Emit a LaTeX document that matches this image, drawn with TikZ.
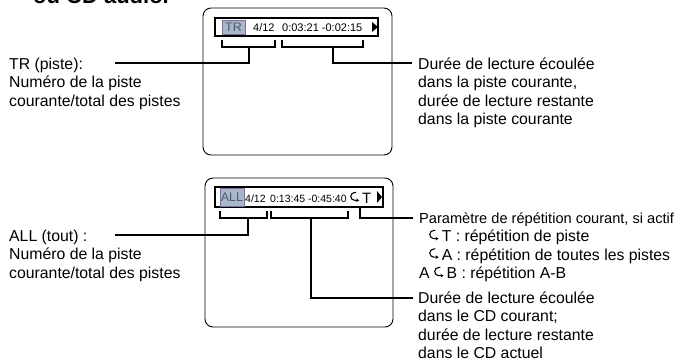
\documentclass[tikz,border=0pt]{standalone}
\usepackage{fontspec}
\setmainfont{Liberation Sans}
\usetikzlibrary{arrows.meta}

\definecolor{hlfill}{RGB}{168,184,200}
\definecolor{hlframe}{RGB}{120,110,160}
\definecolor{hltext}{RGB}{80,90,110}

% repeat symbol
\newcommand{\rpt}{\tikz[baseline=0pt,line width=1.1pt]
  \draw[-{Stealth[length=3pt,width=3.6pt]}] (0.5em,0.7em) -- (0.4em,0.7em)
  arc[start angle=90,end angle=270,radius=0.26em] -- (0.7em,0.18em);\,}

\tikzset{
  screen/.style={draw, rounded corners=8pt, line width=0.9pt},
  bar/.style={draw, line width=1.1pt},
  hl/.style={draw=hlframe, fill=hlfill, line width=0.6pt, inner sep=0pt, text=hltext},
  brk/.style={line width=2.4pt},
  lnk/.style={line width=2pt},
  lbl/.style={align=left, inner sep=0pt, anchor=base west,
    font=\fontsize{15.8}{18.5}\selectfont},
  disp/.style={inner sep=0pt, anchor=base west, font=\fontsize{11}{12}\selectfont}
}

\begin{document}
\begin{tikzpicture}[x=1pt,y=-1pt]
  \useasboundingbox (0,0) rectangle (675,364);

  \node[anchor=base west, inner sep=0pt, font=\fontsize{22}{24}\selectfont\bfseries] (title) at (33,4) {ou CD audio.};

  % Screen 1 (TR)
  \draw[screen] (203,8) rectangle (392,155);
  \draw[bar] (215,18) rectangle (378,36);
  \node[hl, minimum width=23pt, minimum height=14pt, font=\fontsize{12.5}{13}\selectfont] (trtag) at (233.5,27) {TR};
  \node[disp] (trnum) at (253,31) {4/12};
  \node[disp] (trtime) at (282,31) {0:03:21 -0:02:15};
  \fill (372,22) -- (372,32) -- (378,27) -- cycle;

  \coordinate (b1m) at (249,47);
  \coordinate (b2m) at (333,47);
  \draw[brk] (222,40) -- (222,47) -- (275,47) -- (275,40);
  \draw[brk] (282,40) -- (282,47) -- (363,47) -- (363,40);

  % base anchor = last line
  \node[lbl] (trlbl) at (9,106) {TR (piste):\\Numéro de la piste\\courante/total des pistes};
  \node[lbl] (durlbl) at (418,124.5) {Durée de lecture écoulée\\dans la piste courante,\\durée de lecture restante\\dans la piste courante};
  \coordinate (trend) at (115,63);
  \coordinate (durend) at (412,63);
  \draw[lnk] (b1m) |- (trend);
  \draw[lnk] (b2m) |- (durend);

  % Screen 2 (ALL)
  \draw[screen] (205,178) rectangle (393,327);
  \draw[bar] (215,187) rectangle (383,207);
  \node[hl, minimum width=24pt, minimum height=18pt, font=\fontsize{12.5}{13}\selectfont] (alltag) at (232,197) {ALL};
  \node[disp, font=\fontsize{10.5}{12}\selectfont] (allnum) at (245,202) {4/12};
  \node[disp, font=\fontsize{10.5}{12}\selectfont] (alltime) at (270,202) {0:13:45 -0:45:40};
  \node[disp, font=\fontsize{15}{16}\selectfont] (allrpt) at (350,203) {\rpt T};
  \fill (377,191) -- (377,203) -- (382,197) -- cycle;

  \coordinate (b3m) at (248,218);
  \coordinate (b4m) at (311,218);
  \coordinate (rptm) at (360,207);
  \draw[brk] (220,211) -- (220,218) -- (267,218) -- (267,211);
  \draw[brk] (271,211) -- (271,218) -- (348,218) -- (348,211);

  \node[lbl] (alllbl) at (9,278) {ALL (tout) :\\Numéro de la piste\\courante/total des pistes};
  \node[lbl] (rptlbl) at (419,278.5) {{\fontsize{14.6}{18.5}\selectfont Paramètre de répétition courant, si actif}\\
    \hspace*{10pt}\rpt T : répétition de piste\\
    \hspace*{10pt}\rpt A : répétition de toutes les pistes\\
    A \rpt B : répétition A-B};
  \node[lbl] (cdlbl) at (418,358.5) {Durée de lecture écoulée\\dans le CD courant;\\durée de lecture restante\\dans le CD actuel};
  \coordinate (allend) at (115,235);
  \coordinate (rptend) at (413,218);
  \coordinate (cdend) at (413,298);
  \draw[lnk] (b3m) |- (allend);
  \draw[lnk] (b4m) |- (cdend);
  \draw[lnk] (rptm) |- (rptend);
\end{tikzpicture}
\end{document}
